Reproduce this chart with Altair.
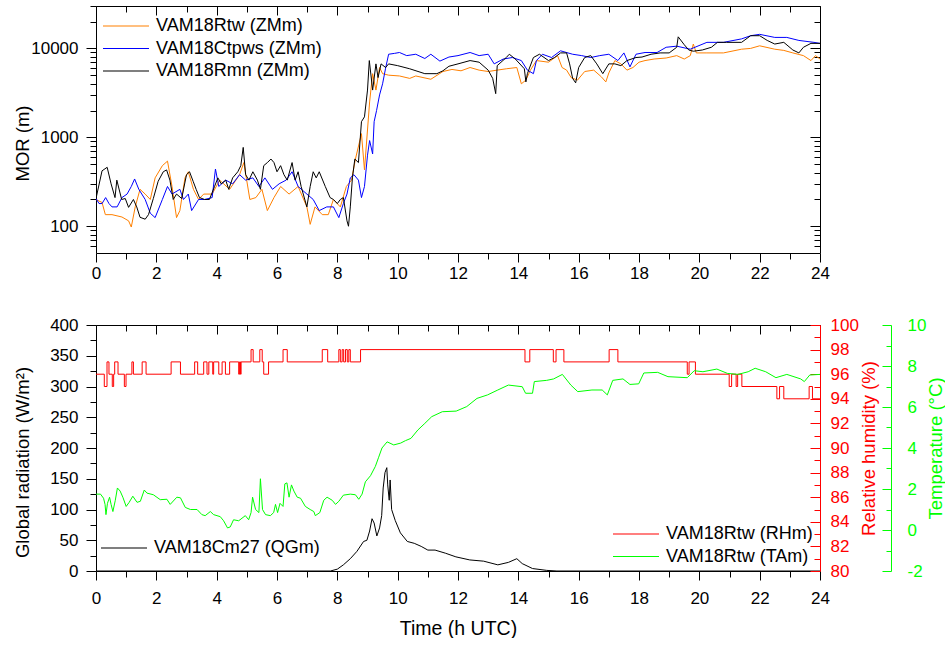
import altair as alt
import pandas as pd

FONT = "Liberation Sans"

# ---------------- axis tick values ----------------
hours_major = list(range(0, 25, 2))
hours_minor = list(range(1, 24, 2))
mor_major = [100, 1000, 10000]
mor_minor = [60, 70, 80, 90, 200, 300, 400, 500, 600, 700, 800, 900,
             2000, 3000, 4000, 5000, 6000, 7000, 8000, 9000, 20000, 30000]
rad_major = list(range(0, 401, 50))
rad_minor = list(range(25, 400, 50))
rh_major = list(range(80, 101, 2))
rh_minor = list(range(81, 100, 2))
ta_major = list(range(-2, 11, 2))
ta_minor = list(range(-1, 10, 2))

# ---------------- MOR series (hour, metres) ----------------
mor_names = ["VAM18Rtw (ZMm)", "VAM18Ctpws (ZMm)", "VAM18Rmn (ZMm)"]
mor_colors = ["#FF8000", "#0000FF", "#000000"]

rtw = [(0.0, 200), (0.2, 185), (0.31, 135), (0.53, 135), (0.86, 127), (1.08, 115), (1.17, 98),
       (1.3, 165), (1.46, 260), (1.63, 230), (1.8, 200), (1.96, 350), (2.2, 480), (2.37, 540),
       (2.52, 280), (2.67, 125), (2.78, 150), (2.95, 350), (3.06, 410), (3.23, 260), (3.4, 200),
       (3.57, 230), (3.85, 230), (4.1, 330), (4.43, 260), (4.76, 380), (4.9, 520), (5.1, 200),
       (5.3, 210), (5.5, 260), (5.68, 150), (5.9, 210), (6.12, 280), (6.4, 230), (6.7, 280),
       (6.99, 165), (7.1, 105), (7.26, 165), (7.5, 135), (7.7, 135), (7.87, 200), (8.1, 165),
       (8.3, 280), (8.47, 330), (8.6, 570), (8.8, 1100), (8.9, 430), (9.07, 2500), (9.17, 5200),
       (9.28, 3400), (9.4, 6100), (9.5, 5200), (9.7, 5000), (10.06, 4900), (10.4, 4600),
       (10.6, 4900), (11.1, 4500), (11.5, 5500), (11.8, 5800), (12.1, 5600), (12.4, 6100),
       (12.7, 5700), (13.0, 5500), (13.3, 5700), (13.6, 5900), (13.95, 6100), (14.1, 4000),
       (14.25, 4400), (14.4, 5700), (14.6, 7300), (15.0, 7000), (15.3, 8300), (15.45, 6100),
       (15.6, 5700), (15.75, 4700), (15.96, 4400), (16.2, 5500), (16.5, 5700), (16.75, 4800),
       (16.9, 4200), (17.0, 5300), (17.2, 7300), (17.4, 6700), (17.6, 5700), (17.8, 6100),
       (18.0, 7000), (18.2, 7300), (18.5, 7600), (18.9, 7800), (19.25, 8300), (19.5, 7600),
       (19.7, 8300), (19.8, 11200), (19.9, 8900), (20.25, 8900), (20.8, 8900), (21.4, 9800),
       (21.7, 10000), (22.0, 10700), (22.5, 9800), (22.8, 9500), (23.1, 8900), (23.45, 8300),
       (23.7, 7300), (23.85, 8300), (24.0, 7600)]

ctpws = [(0.0, 205), (0.1, 180), (0.2, 180), (0.32, 210), (0.43, 180), (0.53, 165), (0.7, 165),
         (0.86, 210), (1.03, 230), (1.17, 280), (1.28, 340), (1.42, 260), (1.63, 200), (1.8, 140),
         (1.96, 125), (2.2, 200), (2.37, 280), (2.52, 230), (2.78, 260), (2.9, 200), (3.06, 230),
         (3.17, 150), (3.4, 200), (3.6, 200), (3.85, 210), (3.96, 440), (4.07, 280), (4.3, 330),
         (4.53, 300), (4.76, 380), (4.96, 330), (5.2, 350), (5.4, 280), (5.6, 350), (5.85, 260),
         (6.07, 300), (6.3, 330), (6.5, 410), (6.7, 280), (6.99, 230), (7.2, 200), (7.4, 150),
         (7.65, 165), (7.87, 165), (8.05, 125), (8.2, 180), (8.32, 230), (8.43, 350), (8.55, 380),
         (8.7, 330), (8.8, 210), (8.9, 280), (9.0, 630), (9.07, 920), (9.17, 650), (9.22, 1500),
         (9.3, 2000), (9.4, 3000), (9.5, 4000), (9.6, 6000), (9.7, 8600), (9.9, 8800),
         (10.06, 9000), (10.3, 8300), (10.6, 8600), (10.9, 7700), (11.1, 8600), (11.4, 7200),
         (11.7, 8000), (12.0, 8300), (12.4, 9000), (12.7, 8300), (13.0, 8600), (13.2, 6700),
         (13.5, 7600), (13.8, 7900), (14.1, 7300), (14.3, 5700), (14.5, 5200), (14.6, 7300),
         (14.8, 8600), (15.1, 7900), (15.4, 9400), (15.8, 8600), (16.1, 8300), (16.4, 7900),
         (16.7, 8300), (17.0, 8600), (17.3, 7300), (17.5, 8900), (17.7, 6200), (17.9, 8600),
         (18.2, 9000), (18.6, 9000), (18.9, 10300), (19.25, 10600), (19.7, 9800), (20.25, 11700),
         (20.8, 11700), (21.4, 12800), (21.7, 13900), (22.0, 14400), (22.5, 13300), (22.9, 13300),
         (23.3, 12300), (23.8, 11700), (24.0, 11400)]

rmn = [(0.0, 205), (0.2, 420), (0.37, 460), (0.5, 300), (0.63, 210), (0.69, 330), (0.85, 200),
       (0.97, 205), (1.08, 163), (1.24, 200), (1.35, 165), (1.46, 126), (1.63, 120), (1.74, 135),
       (1.9, 205), (2.06, 320), (2.23, 410), (2.34, 430), (2.45, 330), (2.56, 200), (2.67, 230),
       (2.84, 205), (3.0, 380), (3.1, 410), (3.22, 320), (3.32, 260), (3.43, 210), (3.6, 200),
       (3.76, 200), (3.93, 280), (4.04, 350), (4.15, 300), (4.3, 330), (4.4, 260), (4.53, 350),
       (4.7, 410), (4.8, 480), (4.88, 770), (4.96, 380), (5.07, 330), (5.2, 410), (5.35, 330),
       (5.45, 260), (5.56, 480), (5.68, 520), (5.8, 570), (5.9, 520), (6.0, 410), (6.12, 480),
       (6.23, 380), (6.34, 330), (6.5, 520), (6.6, 330), (6.7, 410), (6.8, 280), (6.99, 165),
       (7.1, 280), (7.2, 410), (7.3, 350), (7.4, 410), (7.6, 280), (7.76, 210), (7.87, 200),
       (8.0, 180), (8.1, 200), (8.2, 210), (8.32, 115), (8.37, 100), (8.43, 165), (8.5, 350),
       (8.58, 570), (8.7, 520), (8.8, 1500), (8.9, 1700), (9.0, 3400), (9.06, 7300), (9.17, 3400),
       (9.28, 6700), (9.35, 4700), (9.45, 6700), (9.6, 6100), (9.7, 6700), (10.0, 6400),
       (10.4, 5900), (10.9, 5200), (11.3, 5200), (11.5, 5600), (11.7, 6300), (12.0, 6700),
       (12.4, 7300), (12.7, 7000), (13.0, 5700), (13.15, 4600), (13.25, 3100), (13.3, 6400),
       (13.6, 7900), (13.7, 8600), (13.9, 7600), (14.2, 5900), (14.25, 4200), (14.3, 5200),
       (14.5, 7900), (14.7, 8600), (15.0, 7300), (15.2, 7900), (15.4, 8900), (15.6, 8900),
       (15.7, 6700), (15.8, 4600), (15.9, 4100), (16.0, 6100), (16.2, 7900), (16.4, 8300),
       (16.6, 6700), (16.8, 5200), (17.0, 6700), (17.2, 6700), (17.4, 6400), (17.6, 7300),
       (17.9, 7900), (18.1, 8000), (18.4, 8600), (18.7, 8900), (19.0, 8900), (19.25, 10300),
       (19.3, 13500), (19.5, 11000), (19.65, 9600), (19.8, 9300), (20.1, 9600), (20.4, 10300),
       (20.6, 11700), (20.9, 11700), (21.4, 11700), (21.7, 13900), (22.0, 13900), (22.25, 12300),
       (22.5, 11200), (22.8, 11700), (23.1, 9600), (23.3, 8900), (23.45, 10300), (23.7, 11400),
       (24.0, 11400)]

# ---------------- global radiation (hour, W/m2) ----------------
rad_name = "VAM18Cm27 (QGm)"
rad = [(0.0, 0), (7.77, 0), (8.0, 3), (8.2, 10), (8.43, 20), (8.65, 32), (8.87, 48), (8.98, 50),
       (9.07, 65), (9.15, 85), (9.22, 78), (9.31, 57), (9.4, 70), (9.47, 90), (9.52, 135),
       (9.58, 160), (9.64, 168), (9.67, 140), (9.72, 115), (9.75, 148), (9.8, 100), (9.92, 82),
       (10.09, 62), (10.32, 48), (10.55, 45), (10.78, 40), (11.0, 34), (11.24, 34), (11.58, 29),
       (11.93, 23), (12.39, 18), (12.85, 16), (13.32, 10), (13.67, 14), (13.95, 20), (14.13, 12),
       (14.47, 4), (14.94, 1), (15.28, 0), (24.0, 0)]

# ---------------- relative humidity (step changes: hour, %) ----------------
rh_name = "VAM18Rtw (RHm)"
rh_t = [0.0, 0.275, 0.365, 0.43, 0.54, 0.585, 0.62, 0.73, 0.94, 0.995, 1.19, 1.24, 1.53, 1.66,
        2.49, 2.8, 3.27, 3.37, 3.57, 3.68, 3.74, 3.87, 3.9, 4.07, 4.18, 4.29, 4.43, 4.73, 4.76,
        4.79, 4.81, 5.14, 5.21, 5.43, 5.51, 5.56, 5.72, 6.2, 6.34, 7.5, 7.68, 8.05, 8.1, 8.16,
        8.21, 8.27, 8.33, 8.38, 8.43, 8.77, 14.22, 14.38, 15.16, 15.25, 15.51, 17.01, 17.3,
        19.6, 19.66, 19.87, 20.99, 21.07, 21.22, 21.27, 21.41, 22.57, 22.66, 22.8, 23.64, 23.75,
        24.0]
rh_v = [96, 95, 97, 96, 95, 96, 97, 96, 95, 96, 97, 96, 97, 96,
        97, 96, 97, 96, 97, 96, 97, 96, 97, 96, 97, 96, 97, 96, 97,
        96, 97, 98, 97, 98, 97, 96, 97, 98, 97, 98, 97, 98, 97, 98,
        97, 98, 97, 98, 97, 98, 97, 98, 97, 98, 97, 98, 97,
        96, 97, 96, 95, 96, 95, 96, 95, 94, 95, 94, 95, 94,
        94]

# ---------------- air temperature (hour, degC) ----------------
ta_name = "VAM18Rtw (TAm)"
ta = [(0.0, 1.75), (0.15, 1.75), (0.25, 1.55), (0.3, 1.25), (0.33, 0.75), (0.38, 1.3), (0.45, 1.6),
      (0.5, 1.25), (0.56, 0.9), (0.64, 1.45), (0.71, 2.05), (0.8, 1.9), (0.89, 1.6), (1.0, 1.15),
      (1.1, 1.35), (1.22, 1.65), (1.36, 1.35), (1.47, 1.4), (1.6, 1.95), (1.69, 1.8), (1.9, 1.72),
      (2.13, 1.48), (2.35, 1.5), (2.46, 1.25), (2.68, 1.6), (2.8, 1.57), (2.96, 1.1), (3.13, 1.0),
      (3.35, 1.0), (3.51, 0.75), (3.62, 0.7), (3.79, 0.9), (3.9, 0.75), (4.12, 0.65), (4.23, 0.45),
      (4.36, 0.1), (4.45, 0.15), (4.56, 0.5), (4.73, 0.45), (4.95, 0.7), (5.06, 0.5), (5.14, 0.85),
      (5.19, 1.6), (5.29, 1.0), (5.4, 0.85), (5.45, 2.5), (5.52, 1.0), (5.62, 0.75), (5.78, 0.7),
      (5.89, 0.85), (5.95, 1.25), (6.02, 0.85), (6.1, 1.3), (6.2, 1.15), (6.26, 2.25), (6.33, 2.3),
      (6.4, 1.6), (6.48, 2.2), (6.56, 1.9), (6.67, 1.6), (6.78, 1.55), (6.94, 1.15), (7.1, 1.0),
      (7.22, 0.9), (7.27, 0.7), (7.42, 0.85), (7.55, 1.45), (7.66, 1.6), (7.83, 1.45), (7.94, 1.25),
      (8.05, 1.4), (8.2, 1.7), (8.43, 1.75), (8.6, 1.72), (8.71, 1.5), (8.82, 1.75), (8.93, 2.35),
      (9.1, 2.65), (9.26, 3.1), (9.37, 3.55), (9.48, 4.0), (9.65, 4.3), (9.87, 4.15), (10.1, 4.24),
      (10.26, 4.36), (10.44, 4.47), (10.67, 4.88), (10.9, 5.2), (11.13, 5.53), (11.48, 5.77),
      (11.94, 5.8), (12.29, 6.02), (12.63, 6.42), (12.98, 6.59), (13.32, 6.83), (13.67, 7.07),
      (14.13, 6.99), (14.24, 6.67), (14.47, 6.67), (14.53, 7.24), (14.94, 7.3), (15.17, 7.37),
      (15.46, 7.59), (15.74, 7.07), (15.97, 6.75), (16.44, 6.83), (16.78, 6.83), (16.95, 6.59),
      (17.13, 7.3), (17.47, 7.37), (17.7, 7.1), (17.99, 7.13), (18.16, 7.66), (18.62, 7.69),
      (18.96, 7.48), (19.6, 7.43), (19.83, 7.77), (20.12, 7.72), (20.58, 7.85), (20.93, 7.64),
      (21.28, 7.59), (21.62, 7.72), (21.85, 7.89), (22.2, 7.72), (22.54, 7.43), (22.9, 7.59),
      (23.36, 7.37), (23.48, 7.24), (23.66, 7.56), (24.0, 7.59)]


def frame(pairs, name, col):
    return pd.DataFrame({"t": [p[0] for p in pairs], col: [p[1] for p in pairs], "series": name})


df_mor = pd.concat([frame(rtw, mor_names[0], "v"), frame(ctpws, mor_names[1], "v"),
                    frame(rmn, mor_names[2], "v")], ignore_index=True)
df_rad = frame(rad, rad_name, "w")
df_rh = pd.DataFrame({"t": rh_t, "rh": rh_v, "series": rh_name})
df_ta = frame(ta, ta_name, "temp")

W = 724
H_TOP = 247
H_BOT = 246

xsc = alt.Scale(domain=[0, 24], nice=False, zero=False)
log_sc = alt.Scale(type="log", domain=[50, 30000], nice=False)
rad_sc = alt.Scale(domain=[0, 400], nice=False, zero=False)
rh_sc = alt.Scale(domain=[80, 100], nice=False, zero=False)
ta_sc = alt.Scale(domain=[-2, 10], nice=False, zero=False)

RED = "#FF0000"
GREEN = "#00FF00"


def tick_axis(orient, values, size, offset=0, color="black"):
    return alt.Axis(orient=orient, values=values, tickSize=size, offset=offset, labels=False,
                    domain=False, title=None, tickColor=color, grid=False)


def ghost(df, ycol, ysc, xaxis, yaxis):
    return alt.Chart(df).mark_line(opacity=0).encode(
        x=alt.X("t:Q", scale=xsc, axis=xaxis),
        y=alt.Y(f"{ycol}:Q", scale=ysc, axis=yaxis),
    )


legend_common = dict(orient="none", title=None)

# ---------------- top panel ----------------
top_lines = alt.Chart(df_mor).mark_line(strokeWidth=1, clip=True).encode(
    x=alt.X("t:Q", scale=xsc,
            axis=alt.Axis(orient="bottom", values=hours_major, tickSize=9, labelPadding=3,
                          format="d", title=None)),
    y=alt.Y("v:Q", scale=log_sc,
            axis=alt.Axis(orient="left", values=mor_major, format="d", tickSize=10,
                          labelPadding=8, title="MOR (m)", titleX=-74, titleY=137,
                          titleBaseline="middle", titleAlign="center", titleAngle=270)),
    color=alt.Color("series:N", sort=mor_names,
                    scale=alt.Scale(domain=mor_names, range=mor_colors),
                    legend=alt.Legend(legendX=6, legendY=10, **legend_common)),
)

top = alt.layer(
    top_lines,
    ghost(df_mor, "v", log_sc, tick_axis("bottom", hours_minor, 6), tick_axis("left", mor_minor, 6)),
    ghost(df_mor, "v", log_sc, tick_axis("top", hours_major, 9, -9), tick_axis("right", mor_major, 10, -10)),
    ghost(df_mor, "v", log_sc, tick_axis("top", hours_minor, 6, -6), tick_axis("right", mor_minor, 6, -6)),
).resolve_scale(x="independent", y="independent").properties(width=W, height=H_TOP)

# ---------------- bottom panel ----------------
rad_line = alt.Chart(df_rad).mark_line(strokeWidth=1, clip=True).encode(
    x=alt.X("t:Q", scale=xsc,
            axis=alt.Axis(orient="bottom", values=hours_major, tickSize=9, labelPadding=10,
                          format="d", title="Time (h UTC)", titleFontSize=19.5, titlePadding=13)),
    y=alt.Y("w:Q", scale=rad_sc,
            axis=alt.Axis(orient="left", values=rad_major, format="d", tickSize=10,
                          labelPadding=8, title="Global radiation (W/m²)", titleX=-74,
                          titleY=137, titleBaseline="middle", titleAlign="center",
                          titleAngle=270)),
    color=alt.Color("series:N", scale=alt.Scale(domain=[rad_name], range=["#000000"]),
                    legend=alt.Legend(legendX=4, legendY=213, **legend_common)),
)

stroke_scale = alt.Scale(domain=[rh_name, ta_name], range=[RED, GREEN])
stroke_legend = alt.Legend(legendX=516, legendY=199, **legend_common)

rh_line = alt.Chart(df_rh).mark_line(strokeWidth=1, interpolate="step-after", clip=True).encode(
    x=alt.X("t:Q", scale=xsc, axis=None),
    y=alt.Y("rh:Q", scale=rh_sc,
            axis=alt.Axis(orient="right", values=rh_major, format="d", ticks=False, tickSize=0,
                          labelPadding=10, domain=True, domainColor=RED, labelColor=RED,
                          title="Relative humidity (%)", titleColor=RED, titleAngle=270,
                          titleX=48, titleBaseline="middle", titleAlign="center")),
    stroke=alt.Stroke("series:N", scale=stroke_scale, legend=stroke_legend),
)

ta_line = alt.Chart(df_ta).mark_line(strokeWidth=1, clip=True).encode(
    x=alt.X("t:Q", scale=xsc, axis=None),
    y=alt.Y("temp:Q", scale=ta_sc,
            axis=alt.Axis(orient="right", values=ta_major, offset=71, ticks=False, tickSize=0,
                          labelPadding=16, labelExpr="'' + datum.value", domain=True,
                          domainColor=GREEN, labelColor=GREEN, title="Temperature (°C)",
                          titleColor=GREEN, titleAngle=270, titleX=44,
                          titleBaseline="middle", titleAlign="center")),
    stroke=alt.Stroke("series:N", scale=stroke_scale, legend=stroke_legend),
)

bottom = alt.layer(
    rad_line,
    ghost(df_rad, "w", rad_sc, tick_axis("bottom", hours_minor, 6), tick_axis("left", rad_minor, 6)),
    ghost(df_rh, "rh", rh_sc, tick_axis("top", hours_major, 9, -9), tick_axis("right", rh_major, 10, -10, RED)),
    ghost(df_rh, "rh", rh_sc, tick_axis("top", hours_minor, 6, -6), tick_axis("right", rh_minor, 6, -6, RED)),
    rh_line,
    ta_line,
    ghost(df_ta, "temp", ta_sc, None, tick_axis("right", ta_major, 9, 62, GREEN)),
    ghost(df_ta, "temp", ta_sc, None, tick_axis("right", ta_minor, 5, 66, GREEN)),
).resolve_scale(x="independent", y="independent").properties(width=W, height=H_BOT)

chart = alt.vconcat(top, bottom, spacing=72, bounds="flush").resolve_scale(
    color="independent", stroke="independent"
).properties(
    padding={"left": 12, "top": 5, "right": 0, "bottom": 0},
    background="white",
).configure_view(
    stroke="black", strokeWidth=1
).configure_axis(
    labelFont=FONT, titleFont=FONT, labelFontSize=17, titleFontSize=18.5,
    titleFontWeight="normal", grid=False, domain=False, labelColor="black",
    titleColor="black", tickColor="black", tickWidth=1, labelFlush=False, labelOverlap=False,
).configure_legend(
    labelFont=FONT, labelFontSize=18, labelColor="black", symbolType="stroke",
    symbolSize=2116, symbolStrokeWidth=1.2, clipHeight=20, rowPadding=2.5, padding=0,
    labelOffset=6, labelLimit=400,
)

chart.save("out.html", embed_options={"renderer": "svg", "actions": False})
